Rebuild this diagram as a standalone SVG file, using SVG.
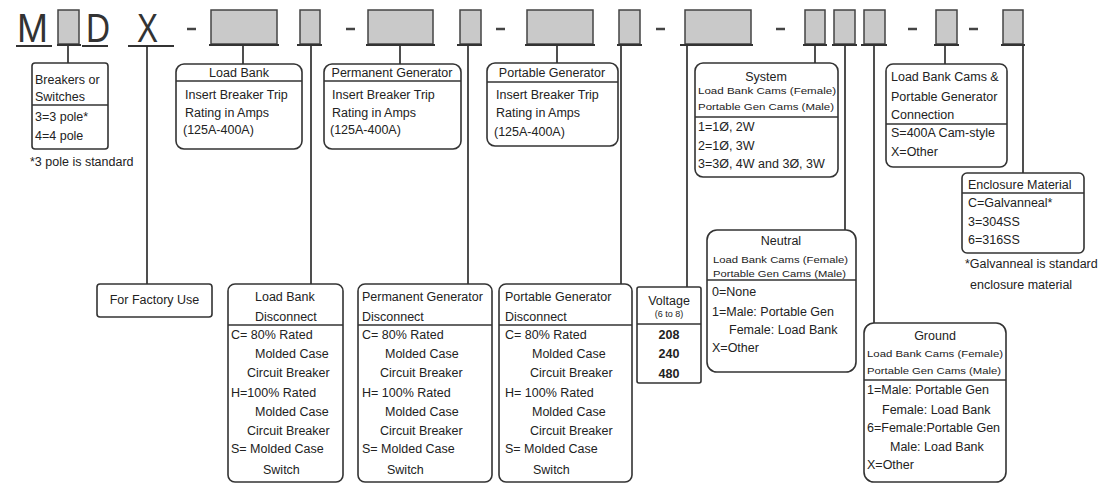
<svg xmlns="http://www.w3.org/2000/svg" width="1107" height="484" viewBox="0 0 1107 484">
<style>
text{font-family:"Liberation Sans",Arial,sans-serif;fill:#222;font-size:12.5px}
.big{font-size:40px;fill:#333}
.sm{font-size:9px}
.c{text-anchor:middle}
.b{font-weight:bold}
.box{fill:#fff;stroke:#333;stroke-width:1.6}
.div{stroke:#333;stroke-width:1.6}
.cell{fill:#c9c9c9;stroke:#444;stroke-width:1.5}
.ul{stroke:#333;stroke-width:2}
.dash{stroke:#444;stroke-width:2.5}
#connectors line{stroke:#222;stroke-width:1.6}
</style>
<rect width="1107" height="484" fill="#fff"/>
<g id="code">
<text class="big" x="17" y="42" textLength="31" lengthAdjust="spacingAndGlyphs">M</text>
<text class="big" x="86" y="42" textLength="24" lengthAdjust="spacingAndGlyphs">D</text>
<text class="big" x="137" y="42" textLength="21" lengthAdjust="spacingAndGlyphs">X</text>
<line class="ul" x1="16" y1="46" x2="52" y2="46"/>
<line class="ul" x1="82" y1="46" x2="108" y2="46"/>
<line class="ul" x1="128" y1="46" x2="174" y2="46"/>
<rect class="cell" x="58" y="10" width="21" height="34"/><line class="ul" x1="57" y1="45" x2="81" y2="45"/>
<line class="dash" x1="187" y1="29" x2="196" y2="29"/>
<rect class="cell" x="211" y="10" width="66" height="34"/><line class="ul" x1="209" y1="45" x2="279" y2="45"/>
<rect class="cell" x="300" y="10" width="20" height="34"/><line class="ul" x1="297" y1="45" x2="322" y2="45"/>
<line class="dash" x1="346" y1="29" x2="355" y2="29"/>
<rect class="cell" x="368" y="10" width="65" height="34"/><line class="ul" x1="366" y1="45" x2="435" y2="45"/>
<rect class="cell" x="460" y="10" width="21" height="34"/><line class="ul" x1="457" y1="45" x2="482" y2="45"/>
<line class="dash" x1="496" y1="29" x2="505" y2="29"/>
<rect class="cell" x="527" y="10" width="66" height="34"/><line class="ul" x1="525" y1="45" x2="595" y2="45"/>
<rect class="cell" x="619" y="10" width="21" height="34"/><line class="ul" x1="617" y1="45" x2="642" y2="45"/>
<line class="dash" x1="656" y1="29" x2="665" y2="29"/>
<rect class="cell" x="685" y="10" width="66" height="34"/><line class="ul" x1="680" y1="45" x2="753" y2="45"/>
<line class="dash" x1="776" y1="29" x2="785" y2="29"/>
<rect class="cell" x="805" y="10" width="20" height="34"/><line class="ul" x1="803" y1="45" x2="827" y2="45"/>
<rect class="cell" x="834" y="10" width="21" height="34"/><line class="ul" x1="832" y1="45" x2="857" y2="45"/>
<rect class="cell" x="864" y="10" width="21" height="34"/><line class="ul" x1="861" y1="45" x2="887" y2="45"/>
<line class="dash" x1="908" y1="29" x2="917" y2="29"/>
<rect class="cell" x="936" y="10" width="21" height="34"/><line class="ul" x1="934" y1="45" x2="959" y2="45"/>
<line class="dash" x1="969" y1="29" x2="978" y2="29"/>
<rect class="cell" x="1003" y="10" width="20" height="34"/><line class="ul" x1="1001" y1="45" x2="1025" y2="45"/>
</g>
<g id="connectors">
<line x1="68" y1="46" x2="68" y2="63"/>
<line x1="147" y1="46" x2="147" y2="284"/>
<line x1="243" y1="46" x2="243" y2="64"/>
<line x1="311" y1="46" x2="311" y2="284"/>
<line x1="400" y1="46" x2="400" y2="64"/>
<line x1="468" y1="46" x2="468" y2="284"/>
<line x1="557" y1="46" x2="557" y2="63"/>
<line x1="621" y1="46" x2="621" y2="284"/>
<line x1="687" y1="46" x2="687" y2="287"/>
<line x1="815" y1="46" x2="815" y2="63"/>
<line x1="845" y1="46" x2="845" y2="230"/>
<line x1="874" y1="46" x2="874" y2="323"/>
<line x1="945" y1="46" x2="945" y2="64"/>
<line x1="1023" y1="46" x2="1023" y2="173"/>
</g>
<g id="breakers">
<rect class="box" x="32" y="63" width="76" height="86" rx="3"/>
<line class="div" x1="32" y1="105" x2="108" y2="105"/>
<text x="35" y="84">Breakers or</text>
<text x="35" y="101">Switches</text>
<text x="35" y="121">3=3 pole*</text>
<text x="35" y="140">4=4 pole</text>
<text x="30" y="166" font-size="11.5">*3 pole is standard</text>
</g>
<g id="factory">
<rect class="box" x="97" y="284" width="115" height="33" rx="3"/>
<text class="c" x="154.5" y="304">For Factory Use</text>
</g>
<g id="loadbank">
<rect class="box" x="176" y="64" width="126" height="85" rx="8"/>
<line class="div" x1="176" y1="81" x2="302" y2="81"/>
<text class="c" x="239" y="77">Load Bank</text>
<text x="185" y="99">Insert Breaker Trip</text>
<text x="185" y="117">Rating in Amps</text>
<text x="183" y="134">(125A-400A)</text>
</g>
<g id="permgen">
<rect class="box" x="324" y="64" width="137" height="85" rx="8"/>
<line class="div" x1="324" y1="81" x2="461" y2="81"/>
<text class="c" x="392" y="77">Permanent Generator</text>
<text x="332" y="99">Insert Breaker Trip</text>
<text x="332" y="117">Rating in Amps</text>
<text x="330" y="134">(125A-400A)</text>
</g>
<g id="portgen">
<rect class="box" x="487" y="63" width="131" height="83" rx="8"/>
<line class="div" x1="487" y1="82" x2="618" y2="82"/>
<text class="c" x="552" y="77">Portable Generator</text>
<text x="496" y="99">Insert Breaker Trip</text>
<text x="496" y="117">Rating in Amps</text>
<text x="494" y="136">(125A-400A)</text>
</g>
<g id="system">
<rect class="box" x="695" y="63" width="143" height="114" rx="8"/>
<line class="div" x1="695" y1="117" x2="838" y2="117"/>
<text class="c" x="766" y="81">System</text>
<text class="sm" x="698" y="94" textLength="138" lengthAdjust="spacingAndGlyphs">Load Bank Cams (Female)</text>
<text class="sm" x="698" y="110" textLength="136" lengthAdjust="spacingAndGlyphs">Portable Gen Cams (Male)</text>
<text x="698" y="131">1=1Ø, 2W</text>
<text x="698" y="150">2=1Ø, 3W</text>
<text x="698" y="168">3=3Ø, 4W and 3Ø, 3W</text>
</g>
<g id="cams">
<rect class="box" x="886" y="64" width="121" height="103" rx="7"/>
<line class="div" x1="886" y1="124" x2="1007" y2="124"/>
<text x="891" y="81">Load Bank Cams &amp;</text>
<text x="891" y="101">Portable Generator</text>
<text x="891" y="119">Connection</text>
<text x="891" y="137">S=400A Cam-style</text>
<text x="891" y="156">X=Other</text>
</g>
<g id="enclosure">
<rect class="box" x="962" y="173" width="122" height="80" rx="5"/>
<line class="div" x1="962" y1="193" x2="1084" y2="193"/>
<text x="968" y="189">Enclosure Material</text>
<text x="968" y="207">C=Galvanneal*</text>
<text x="968" y="226">3=304SS</text>
<text x="968" y="244">6=316SS</text>
<text x="965" y="268" font-size="11.5">*Galvanneal is standard</text>
<text x="970" y="289" font-size="11.5">enclosure material</text>
</g>
<g id="lbdisc">
<rect class="box" x="228" y="284" width="115" height="198" rx="7"/>
<line class="div" x1="228" y1="325" x2="343" y2="325"/>
<text x="255" y="301">Load Bank</text>
<text x="255" y="321">Disconnect</text>
<text x="231" y="339">C= 80% Rated</text>
<text x="255" y="358">Molded Case</text>
<text x="247" y="377">Circuit Breaker</text>
<text x="231" y="397">H=100% Rated</text>
<text x="255" y="416">Molded Case</text>
<text x="247" y="435">Circuit Breaker</text>
<text x="231" y="453">S= Molded Case</text>
<text x="263" y="474">Switch</text>
</g>
<g id="pgdisc">
<rect class="box" x="358" y="284" width="134" height="198" rx="7"/>
<line class="div" x1="358" y1="325" x2="492" y2="325"/>
<text x="362" y="301">Permanent Generator</text>
<text x="362" y="321">Disconnect</text>
<text x="362" y="339">C= 80% Rated</text>
<text x="385" y="358">Molded Case</text>
<text x="380" y="377">Circuit Breaker</text>
<text x="362" y="397">H= 100% Rated</text>
<text x="385" y="416">Molded Case</text>
<text x="380" y="435">Circuit Breaker</text>
<text x="362" y="453">S= Molded Case</text>
<text x="387" y="474">Switch</text>
</g>
<g id="portdisc">
<rect class="box" x="499" y="284" width="133" height="198" rx="7"/>
<line class="div" x1="499" y1="325" x2="632" y2="325"/>
<text x="505" y="301">Portable Generator</text>
<text x="505" y="321">Disconnect</text>
<text x="505" y="339">C=  80% Rated</text>
<text x="532" y="358">Molded Case</text>
<text x="530" y="377">Circuit Breaker</text>
<text x="505" y="397">H= 100% Rated</text>
<text x="532" y="416">Molded Case</text>
<text x="530" y="435">Circuit Breaker</text>
<text x="505" y="453">S=  Molded Case</text>
<text x="533" y="474">Switch</text>
</g>
<g id="voltage">
<rect class="box" x="637" y="287" width="64" height="96" rx="2"/>
<line class="div" x1="637" y1="324" x2="701" y2="324"/>
<text class="c" x="669" y="305" font-size="11.5">Voltage</text>
<text class="c sm" x="669" y="317" font-size="8.5">(6 to 8)</text>
<text class="c b" x="669" y="339">208</text>
<text class="c b" x="669" y="358">240</text>
<text class="c b" x="669" y="378">480</text>
</g>
<g id="neutral">
<rect class="box" x="707" y="230" width="149" height="142" rx="10"/>
<line class="div" x1="707" y1="280" x2="856" y2="280"/>
<text class="c" x="781" y="245">Neutral</text>
<text class="sm" x="713" y="263" textLength="135" lengthAdjust="spacingAndGlyphs">Load Bank Cams (Female)</text>
<text class="sm" x="713" y="277" textLength="133" lengthAdjust="spacingAndGlyphs">Portable Gen Cams (Male)</text>
<text x="712" y="296">0=None</text>
<text x="712" y="316">1=Male: Portable Gen</text>
<text x="729" y="334">Female: Load Bank</text>
<text x="712" y="352">X=Other</text>
</g>
<g id="ground">
<rect class="box" x="864" y="323" width="142" height="159" rx="10"/>
<line class="div" x1="864" y1="380" x2="1006" y2="380"/>
<text class="c" x="935" y="340">Ground</text>
<text class="sm" x="867" y="357" textLength="136" lengthAdjust="spacingAndGlyphs">Load Bank Cams (Female)</text>
<text class="sm" x="867" y="374" textLength="134" lengthAdjust="spacingAndGlyphs">Portable Gen Cams (Male)</text>
<text x="867" y="394">1=Male: Portable Gen</text>
<text x="882" y="414">Female: Load Bank</text>
<text x="867" y="432">6=Female:Portable Gen</text>
<text x="890" y="451">Male: Load Bank</text>
<text x="867" y="469">X=Other</text>
</g>
</svg>
